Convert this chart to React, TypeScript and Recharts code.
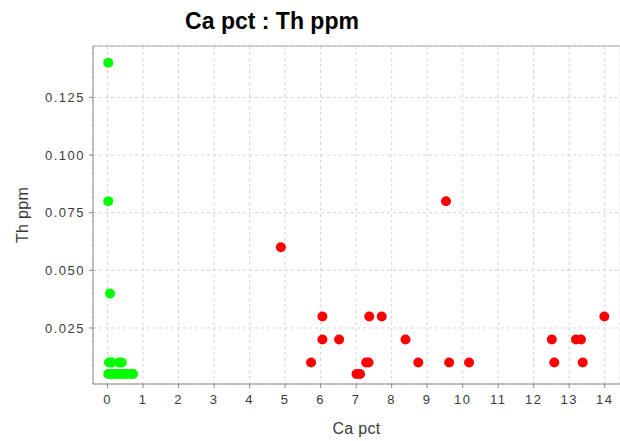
import { ScatterChart, Scatter, XAxis, YAxis, CartesianGrid, ReferenceLine } from 'recharts';

const xTicks = [0, 1, 2, 3, 4, 5, 6, 7, 8, 9, 10, 11, 12, 13, 14];
const yTicks = [0.025, 0.05, 0.075, 0.1, 0.125];

// Ca pct, Th ppm
const greenPoints = [
  { x: 0.02, y: 0.14 }, { x: 0.02, y: 0.08 }, { x: 0.07, y: 0.04 },
  { x: 0.04, y: 0.01 }, { x: 0.12, y: 0.01 }, { x: 0.32, y: 0.01 }, { x: 0.4, y: 0.01 },
  { x: 0.02, y: 0.005 }, { x: 0.08, y: 0.005 }, { x: 0.15, y: 0.005 }, { x: 0.22, y: 0.005 },
  { x: 0.3, y: 0.005 }, { x: 0.38, y: 0.005 }, { x: 0.45, y: 0.005 }, { x: 0.55, y: 0.005 },
  { x: 0.65, y: 0.005 }, { x: 0.72, y: 0.005 },
];

const redPoints = [
  { x: 4.88, y: 0.06 }, { x: 9.53, y: 0.08 },
  { x: 6.05, y: 0.03 }, { x: 7.37, y: 0.03 }, { x: 7.72, y: 0.03 }, { x: 13.99, y: 0.03 },
  { x: 6.05, y: 0.02 }, { x: 6.52, y: 0.02 }, { x: 8.39, y: 0.02 }, { x: 12.51, y: 0.02 },
  { x: 13.19, y: 0.02 }, { x: 13.33, y: 0.02 },
  { x: 5.73, y: 0.01 }, { x: 7.28, y: 0.01 }, { x: 7.35, y: 0.01 }, { x: 8.75, y: 0.01 },
  { x: 9.62, y: 0.01 }, { x: 10.18, y: 0.01 }, { x: 12.58, y: 0.01 }, { x: 13.38, y: 0.01 },
  { x: 7.01, y: 0.005 }, { x: 7.11, y: 0.005 },
];

const font = '"Liberation Sans", Arial, sans-serif';
const tickStyle = { fontSize: 13, fill: '#3a3a3a', fontFamily: font, letterSpacing: 1.5 };
const labelStyle = { fontSize: 16, fill: '#3a3a3a', fontFamily: font, letterSpacing: 0.3 };

const dot = (color: string) => (p: any) => <circle cx={p.cx} cy={p.cy} r={5} fill={color} />;

export default function App() {
  return (
    <div style={{ position: 'absolute', left: 0, top: 0, width: 620, height: 441, background: '#fff' }}>
      <div style={{ position: 'absolute', top: 8, left: 0, width: 544, textAlign: 'center', fontFamily: font, fontWeight: 'bold', fontSize: 23, color: '#000' }}>
        Ca pct : Th ppm
      </div>
      <ScatterChart width={620} height={441} margin={{ top: 46, right: 0, bottom: 0, left: 0 }}>
        <CartesianGrid stroke="#d4d4d4" strokeDasharray="3 3" />
        <XAxis
          type="number" dataKey="x" domain={[-0.41, 14.43]} ticks={xTicks} interval={0}
          allowDataOverflow height={57} tick={tickStyle} tickSize={4} tickMargin={7}
          axisLine={{ stroke: '#888' }} tickLine={{ stroke: '#888' }}
          label={{ value: 'Ca pct', position: 'insideBottom', offset: 7, style: { ...labelStyle, textAnchor: 'middle' } }}
        />
        <YAxis
          type="number" dataKey="y" domain={[0.0007, 0.1473]} ticks={yTicks} interval={0}
          allowDataOverflow width={93} tick={tickStyle} tickSize={4} tickMargin={4}
          tickFormatter={(v: number) => v.toFixed(3)}
          axisLine={{ stroke: '#888' }} tickLine={{ stroke: '#888' }}
          label={{ value: 'Th ppm', angle: -90, position: 'insideLeft', offset: 22, style: { ...labelStyle, textAnchor: 'middle' } }}
        />
        <ReferenceLine y={0.1473} stroke="#aaa" ifOverflow="extendDomain" />
        <Scatter data={greenPoints} fill="#00ff00" shape={dot('#00ff00')} isAnimationActive={false} />
        <Scatter data={redPoints} fill="#ff0000" shape={dot('#ff0000')} isAnimationActive={false} />
      </ScatterChart>
    </div>
  );
}
